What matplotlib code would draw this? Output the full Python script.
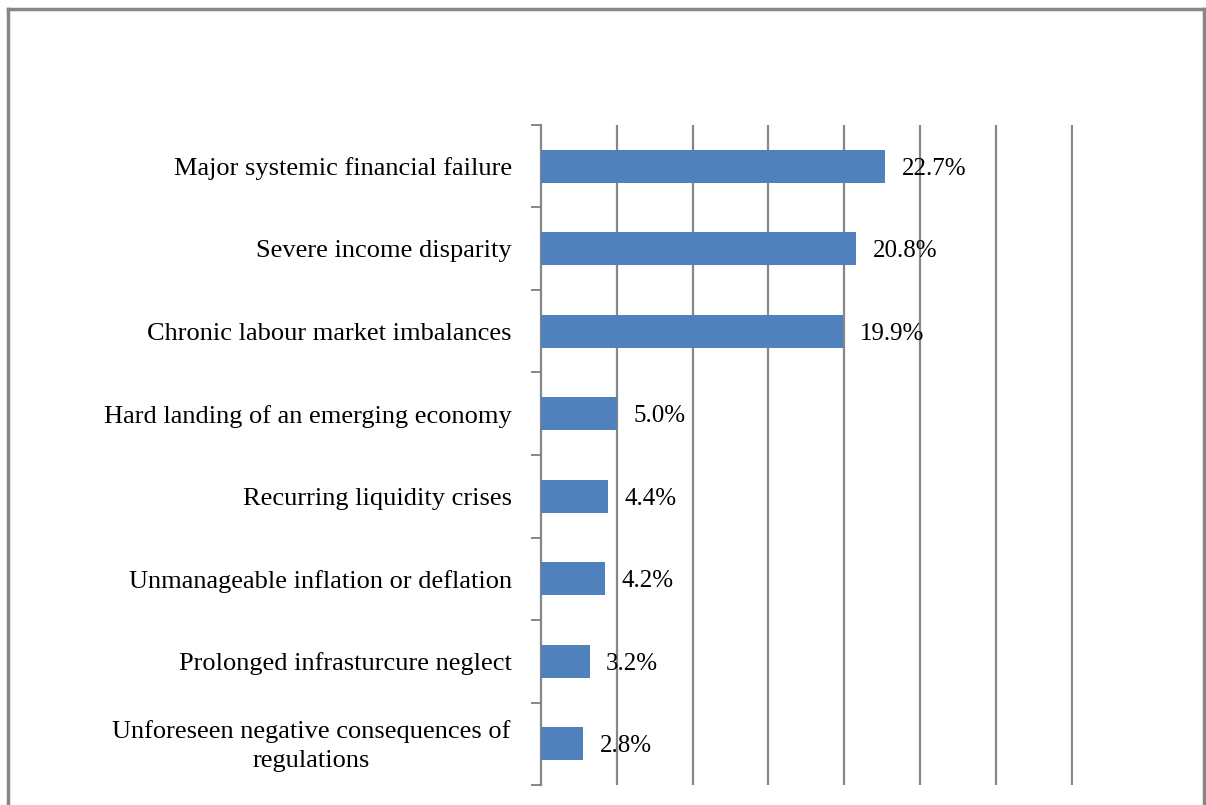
import matplotlib.pyplot as plt
from matplotlib.lines import Line2D

categories = [
    "Major systemic financial failure",
    "Severe income disparity",
    "Chronic labour market imbalances",
    "Hard landing of an emerging economy",
    "Recurring liquidity crises",
    "Unmanageable inflation or deflation",
    "Prolonged infrasturcure neglect",
    "Unforeseen negative consequences of\nregulations",
]
values = [22.7, 20.8, 19.9, 5.0, 4.4, 4.2, 3.2, 2.8]

plt.rcParams['font.family'] = ['Liberation Serif', 'DejaVu Serif']

W, H = 1206, 805
fig = plt.figure(figsize=(W / 100, H / 100), dpi=100)
ax = fig.add_axes([541 / W, 1 - 785 / H, (1073 - 541) / W, (785 - 125) / H])

grey = '#878787'
fs = 19
n = len(categories)
ypos = list(range(n))
ax.barh(ypos, values, height=0.4, color='#4F81BD', zorder=3)

ax.set_xlim(0, 35.08)
ax.set_ylim(n - 0.5, -0.5)
ax.set_xticks([5, 10, 15, 20, 25, 30, 35])
ax.grid(axis='x', color=grey, linewidth=1.6, zorder=1)
ax.tick_params(axis='x', length=0, labelbottom=False)

# ticks on the slot boundaries, category labels centred on the bars
ax.set_yticks([i + 0.5 for i in range(-1, n)])
ax.set_yticklabels([])
ax.tick_params(axis='y', length=7, width=1.4, color=grey, direction='out')
ytr = ax.get_yaxis_transform()
for i, lab in enumerate(categories):
    if '\n' in lab:
        ax.text(-0.432, i + 0.03, lab, ha='center', va='center', fontsize=fs,
                transform=ytr, linespacing=1.4)
    else:
        ax.text(-0.055, i + 0.03, lab, ha='right', va='center', fontsize=fs,
                transform=ytr)

for s in ['top', 'right', 'bottom']:
    ax.spines[s].set_visible(False)
ax.spines['left'].set_color(grey)
ax.spines['left'].set_linewidth(1.6)

for i, v in enumerate(values):
    ax.text(v + 1.1, i + 0.03, f"{v:.1f}%", va='center', ha='left',
            fontsize=18, zorder=4)

# outer chart frame
fr = dict(color=grey, linewidth=2.5, transform=fig.transFigure)
fig.add_artist(Line2D([8 / W, 1204 / W], [1 - 9 / H, 1 - 9 / H], **fr))
fig.add_artist(Line2D([8 / W, 8 / W], [1 - 9 / H, 0], **fr))
fig.add_artist(Line2D([1204 / W, 1204 / W], [1 - 9 / H, 0], **fr))

fig.savefig('out.png', dpi=100)
